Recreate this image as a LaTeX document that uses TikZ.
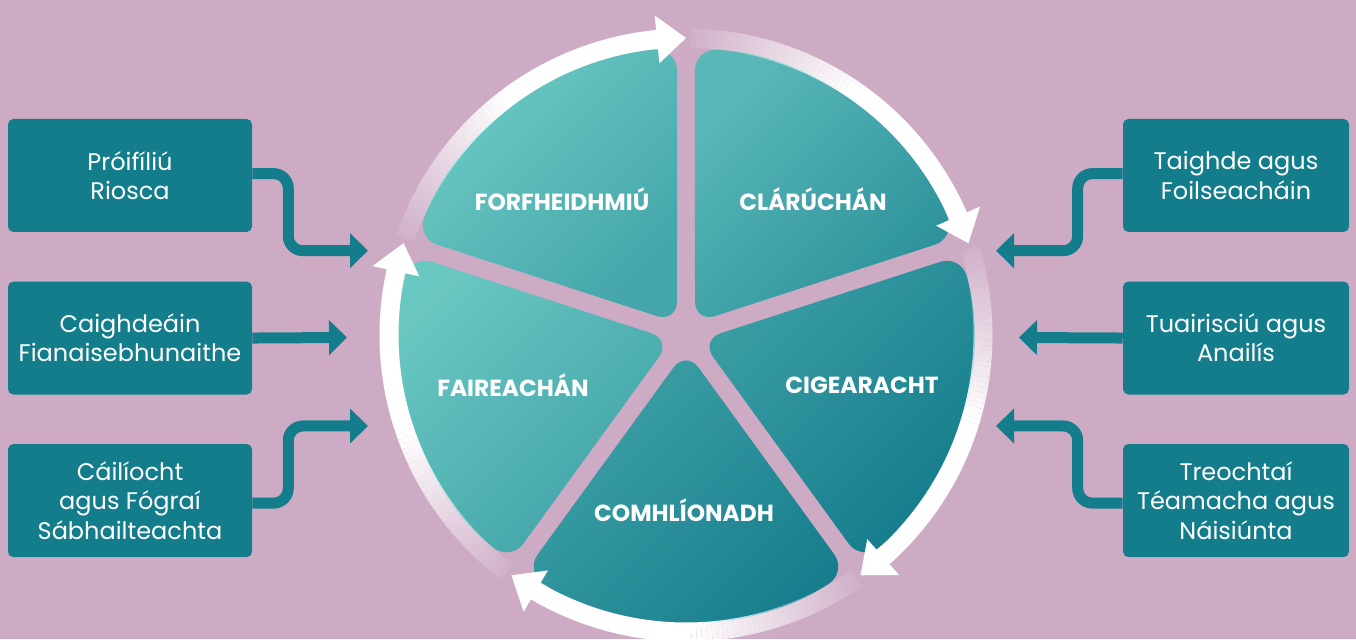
\documentclass[tikz,border=0pt]{standalone}
\usepackage{fontspec}
\setmainfont{Poppins}
\usetikzlibrary{arrows.meta, positioning, calc}

\definecolor{mauve}{HTML}{CDABC5}
\definecolor{tealbox}{HTML}{137D8C}
\definecolor{teallight}{HTML}{6DCAC4}
\definecolor{tealdark}{HTML}{127A8A}

\begin{document}
\begin{tikzpicture}[x=0.75pt, y=0.75pt,
    infobox/.style={fill=tealbox, rounded corners=4pt, minimum width=183pt, minimum height=84.75pt,
      align=center, text=white, inner sep=0pt, font=\fontsize{18}{22}\selectfont},
    seglabel/.style={text=white, font=\fontsize{17.5}{20}\selectfont\bfseries},
    feed/.style={draw=tealbox, line width=8.25pt, rounded corners=11pt, -{Triangle[length=13.5pt, width=25.5pt]}},
    ringarc/.style={draw=white, line width=14.25pt}]
    \useasboundingbox (0,0) rectangle (1356,639);
    \fill[mauve] (0,0) rectangle (1356,639);

    % Wheel
    \coordinate (c) at (686,304);
    \foreach \a/\lite/\deep in {90/teallight/tealdark!45!teallight,
                                18/tealdark!22!teallight/tealdark!72!teallight,
                                -54/tealdark!55!teallight/tealdark,
                                -126/tealdark!50!teallight/tealdark!95!teallight,
                                162/teallight!97!tealdark/tealdark!50!teallight} {
      \shade[top color=\lite, bottom color=\deep, shading angle=45, rounded corners=16pt]
        ($(c)+(\a+36:15.3)$) -- ($(c)+(\a+1.8:286)$)
        arc[start angle=\a+1.8, end angle=\a+70.2, radius=286] -- cycle;
    }
    \node[seglabel] (enforce) at (562,440) {FORFHEIDHMIÚ};
    \node[seglabel] (register) at (813,440) {CLÁRÚCHÁN};
    \node[seglabel] (monitor) at (513,254) {FAIREACHÁN};
    \node[seglabel] (inspect) at (862,254) {CIGEARACHT};
    \node[seglabel] (comply) at (684,129) {COMHLÍONADH};

    % Cycle arrows
    \foreach \s in {162,90,18,-54,-126} {
      \foreach \i [evaluate=\i as \op using 0.08+0.92*\i/33] in {0,...,33}
        \draw[ringarc, draw opacity=\op] ($(c)+(\s-1-\i:297)$) arc[start angle=\s-1-\i, end angle=\s-2-\i, radius=297];
      \draw[ringarc] ($(c)+(\s-35:297)$) arc[start angle=\s-35, end angle=\s-66.6, radius=297];
      \fill[white] ($(c)+(\s-66.4:273)$) -- ($(c)+(\s-66.4:321)$) -- ($(c)+(\s-72:297)$) -- cycle;
    }

    % Left inputs
    \node[infobox] (risk) at (130,463.5) {Próifíliú\\Riosca};
    \node[infobox, below=36.75pt of risk] (standards) {Caighdeáin\\Fianaisebhunaithe};
    \node[infobox, below=36.75pt of standards] (quality) {Cáilíocht\\agus Fógraí\\Sábhailteachta};

    % Right outputs
    \node[infobox, minimum width=169.5pt] (research) at (1236,463.5) {Taighde agus\\Foilseacháin};
    \node[infobox, minimum width=169.5pt, below=36.75pt of research] (reports) {Tuairisciú agus\\Anailís};
    \node[infobox, minimum width=169.5pt, below=36.75pt of reports] (trends) {Treochtaí\\Téamacha agus\\Náisiúnta};

    % Connectors
    \coordinate (riskin) at (368,388.3);
    \coordinate (standardsin) at (347,301.5);
    \coordinate (qualityin) at (368,213);
    \coordinate (researchout) at (996,388.3);
    \coordinate (reportsout) at (1019,301.5);
    \coordinate (trendsout) at (996,213);
    \draw[feed] ([yshift=1.4pt]risk.east) -- ++(36,0) |- (riskin);
    \draw[feed] (standards.east) -- (standardsin);
    \draw[feed] ([yshift=-1.9pt]quality.east) -- ++(36,0) |- (qualityin);
    \draw[feed] ([yshift=1.4pt]research.west) -- ++(-45,0) |- (researchout);
    \draw[feed] (reports.west) -- (reportsout);
    \draw[feed] ([yshift=-1.9pt]trends.west) -- ++(-45,0) |- (trendsout);
  \end{tikzpicture}
\end{document}
